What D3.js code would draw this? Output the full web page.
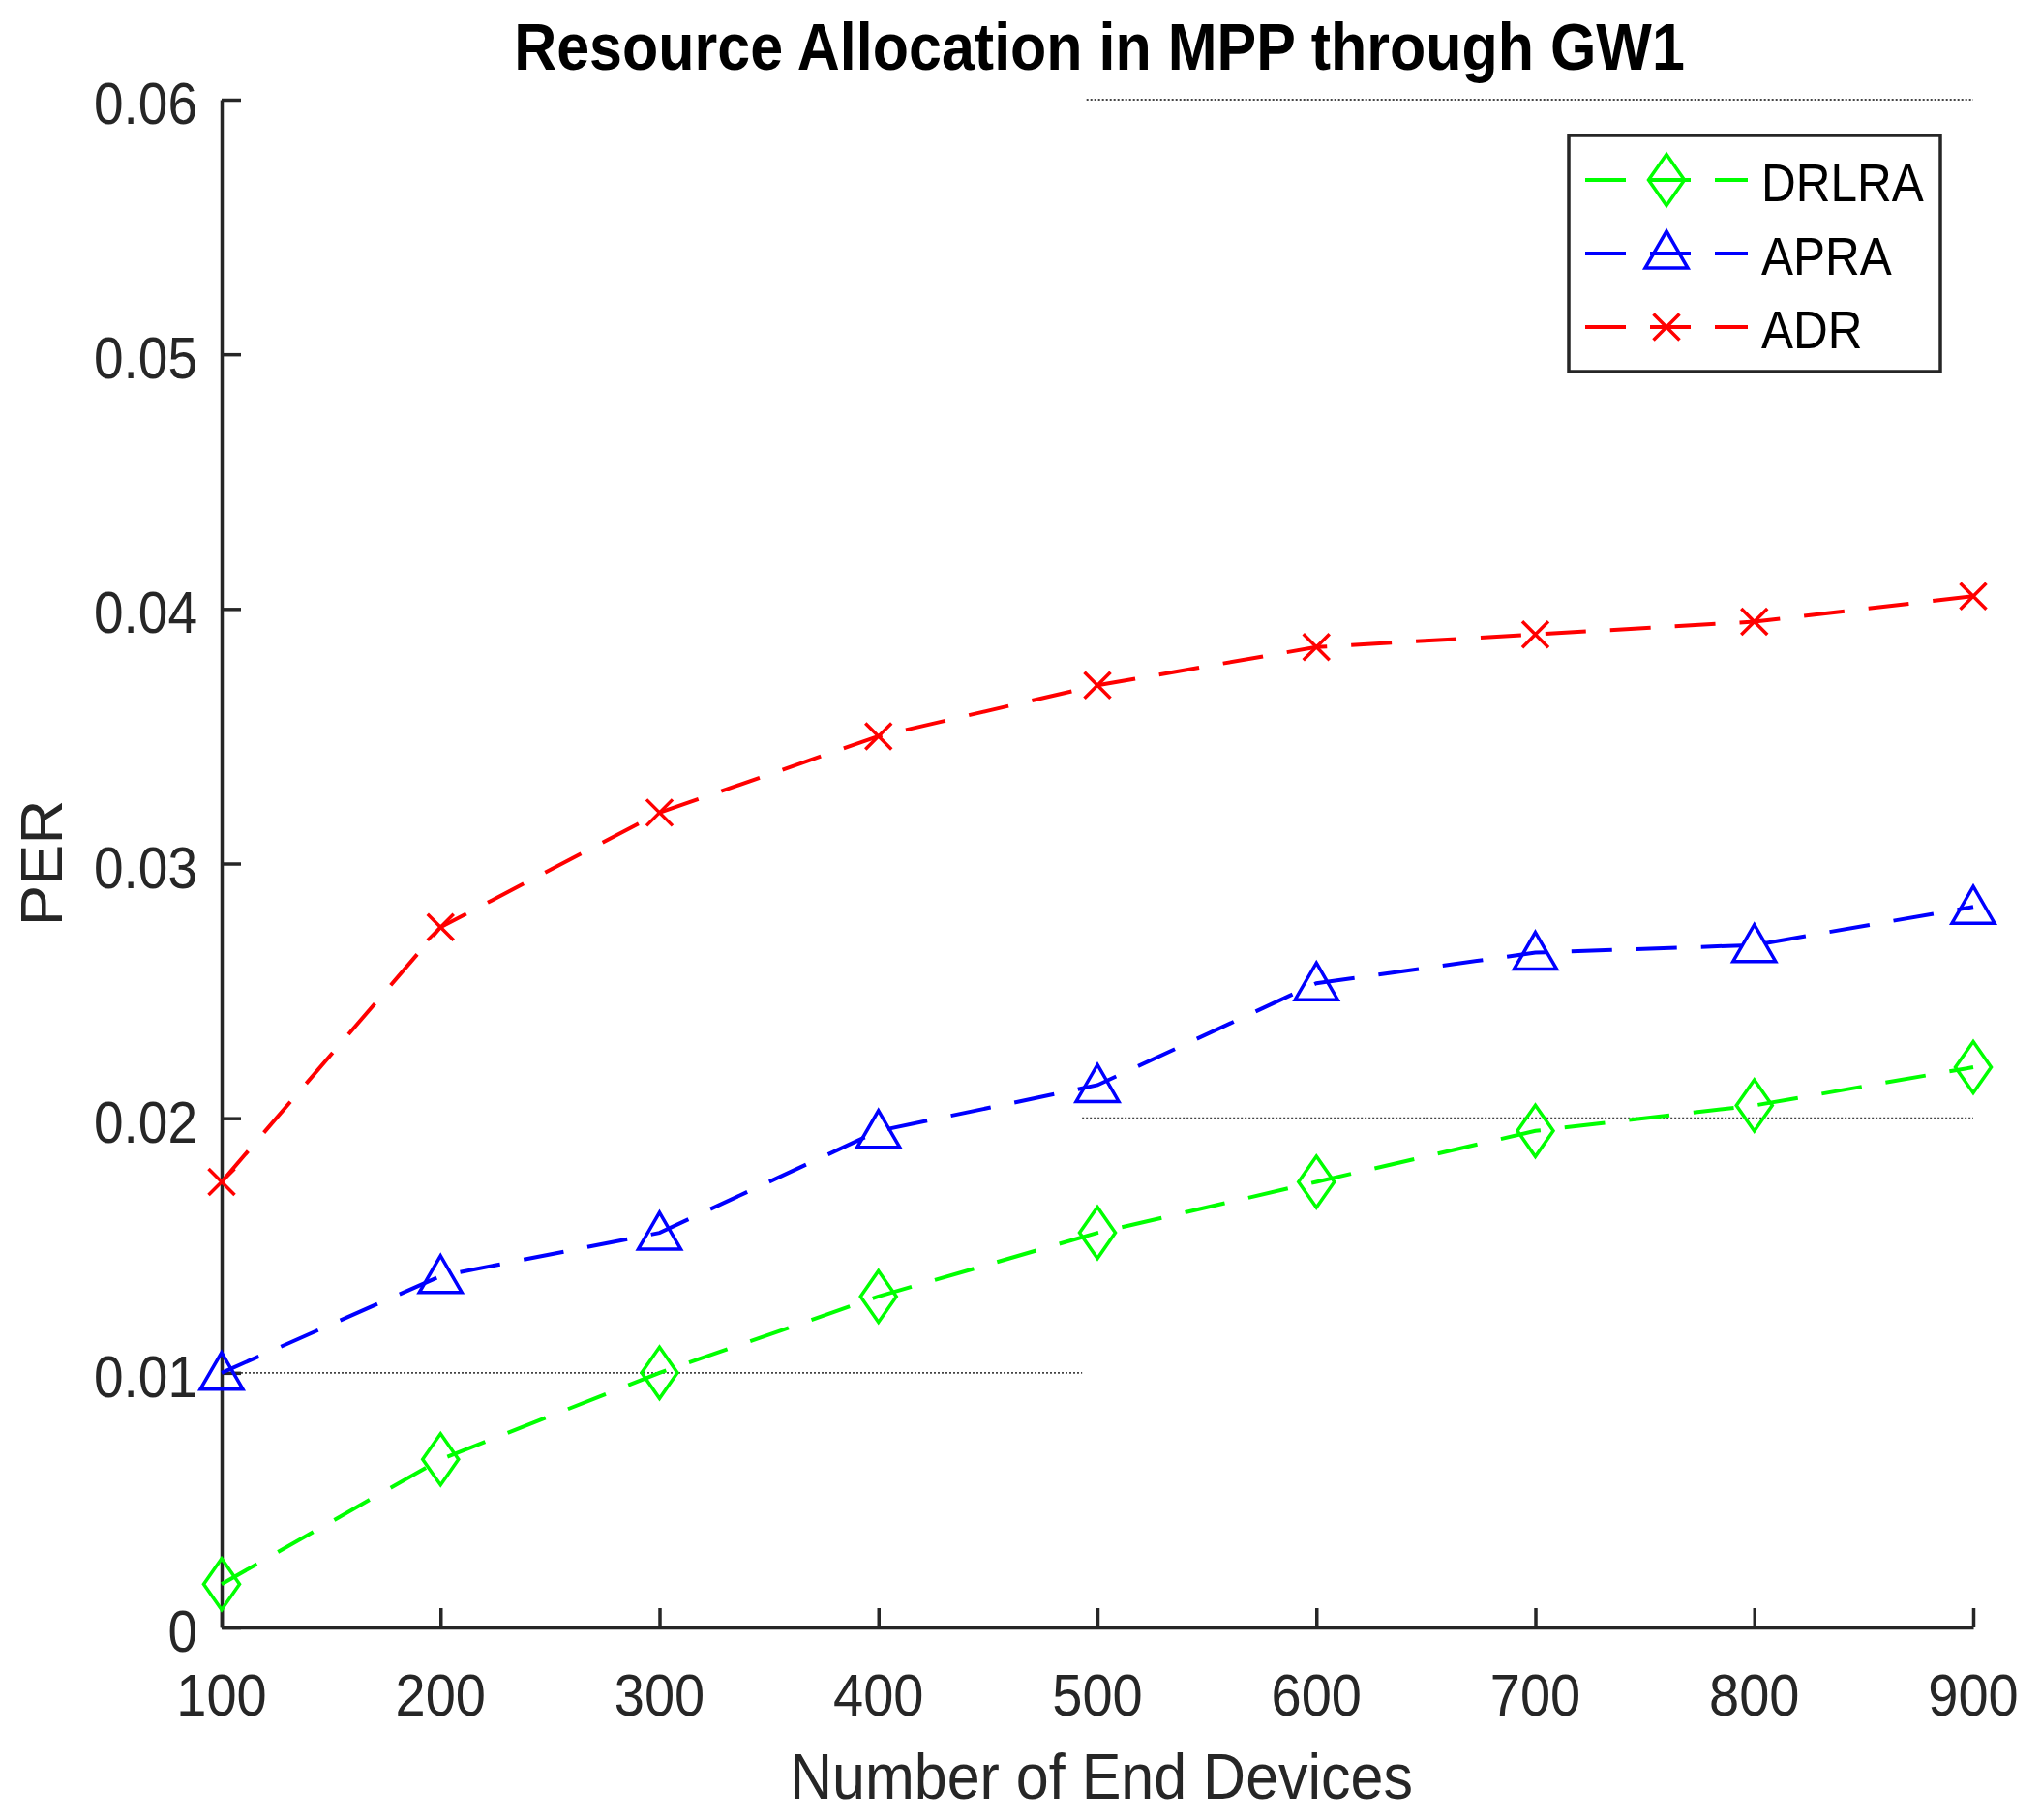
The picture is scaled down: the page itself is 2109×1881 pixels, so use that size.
<!DOCTYPE html>
<html>
<head>
<meta charset="utf-8">
<script src="https://cdn.jsdelivr.net/npm/d3@7"></script>
<style>
  html, body { margin: 0; padding: 0; background: #fff; }
  svg { display: block; }
  text { font-family: "Liberation Sans", Arial, Helvetica, sans-serif; }
</style>
</head>
<body>
<svg id="chart" width="2109" height="1881"></svg>
<script>
// ---------------- data ----------------
const devices = [100, 200, 300, 400, 500, 600, 700, 800, 900];
const drlra = [0.0017, 0.0066, 0.0100, 0.0130, 0.0155, 0.0175, 0.0195, 0.0205, 0.0220];
const apra  = [0.0100, 0.0138, 0.0155, 0.0195, 0.0213, 0.0253, 0.0265, 0.0268, 0.0283];
const adr   = [0.0175, 0.0275, 0.0320, 0.0350, 0.0370, 0.0385, 0.0390, 0.0395, 0.0405];
const seriesNames = ["DRLRA", "APRA", "ADR"];
const xTicks = [100, 200, 300, 400, 500, 600, 700, 800, 900];
const xTickLabels = ["100", "200", "300", "400", "500", "600", "700", "800", "900"];
const yTicks = [0, 0.01, 0.02, 0.03, 0.04, 0.05, 0.06];
const yTickLabels = ["0", "0.01", "0.02", "0.03", "0.04", "0.05", "0.06"];
// faint reference lines visible in the figure (value, from, to)
const refY  = [0.06, 0.02, 0.01];
const refX0 = [495, 493, 100];
const refX1 = [900, 900, 493];

const titleText = "Resource Allocation in MPP through GW1";
const xLabelText = "Number of End Devices";
const yLabelText = "PER";

// ---------------- layout ----------------
const svg = d3.select("#chart");
const x = d3.scaleLinear().domain([100, 900]).range([229, 2039]);
const y = d3.scaleLinear().domain([0, 0.06]).range([1682, 103]);
const axisColor = "#262626";

const series = [
  { name: seriesNames[0], values: drlra, color: "#00ff00", marker: "diamond" },
  { name: seriesNames[1], values: apra,  color: "#0000ff", marker: "triangle" },
  { name: seriesNames[2], values: adr,   color: "#ff0000", marker: "cross" }
];

function markerPath(type) {
  if (type === "diamond") return "M0,-26.5L18.5,0L0,26.5L-18.5,0Z";
  if (type === "triangle") return "M0,-21L22,17L-22,17Z";
  return "M-13.5,-13.5L13.5,13.5M-13.5,13.5L13.5,-13.5";
}

function stretchedText(g, txt, px, py, size, sy, anchor, opts = {}) {
  const t = g.append("text")
    .attr("transform", `translate(${px},${py}) ${opts.rotate ? "rotate(" + opts.rotate + ")" : ""} scale(${opts.sx || 1},${sy})`)
    .attr("text-anchor", anchor)
    .attr("font-size", size)
    .attr("fill", opts.fill || axisColor)
    .text(txt);
  if (opts.bold) t.attr("font-weight", "bold");
  return t;
}

// reference dotted lines
const refG = svg.append("g");
refY.forEach((v, i) => {
  refG.append("line")
    .attr("x1", x(refX0[i])).attr("x2", x(refX1[i]))
    .attr("y1", y(v)).attr("y2", y(v))
    .attr("stroke", "#444").attr("stroke-width", 1.8)
    .attr("stroke-dasharray", "2,2");
});

// axes
const yAxis = d3.axisLeft(y).tickValues(yTicks).tickSize(-20).tickSizeOuter(0).tickFormat("");
const xAxis = d3.axisBottom(x).tickValues(xTicks).tickSize(-20).tickSizeOuter(0).tickFormat("");
const gy = svg.append("g").attr("transform", `translate(${x(100)},0)`).call(yAxis);
const gx = svg.append("g").attr("transform", `translate(0,${y(0)})`).call(xAxis);
[gx, gy].forEach(g => {
  g.selectAll("path.domain").attr("stroke", axisColor).attr("stroke-width", 3.5);
  g.selectAll(".tick line").attr("stroke", axisColor).attr("stroke-width", 3.5);
});

// tick labels
const labG = svg.append("g");
yTicks.forEach((v, i) => {
  stretchedText(labG, yTickLabels[i], 204, y(v) + 25, 55, 1.1, "end");
});
xTicks.forEach((v, i) => {
  stretchedText(labG, xTickLabels[i], x(v), 1773, 56, 1.1, "middle");
});

// series lines
const line = d3.line().x((d, i) => x(devices[i])).y(d => y(d));
const plotG = svg.append("g");
series.forEach(s => {
  plotG.append("path")
    .attr("d", line(s.values))
    .attr("fill", "none")
    .attr("stroke", s.color)
    .attr("stroke-width", 4)
    .attr("stroke-dasharray", "42,25");
});
series.forEach(s => {
  plotG.selectAll(null).data(s.values).enter().append("path")
    .attr("transform", (d, i) => `translate(${x(devices[i])},${y(d)})`)
    .attr("d", markerPath(s.marker))
    .attr("fill", "none")
    .attr("stroke", s.color)
    .attr("stroke-width", 3.5);
});

// title and axis labels
stretchedText(svg, titleText, 1136, 72, 61, 1.12, "middle", { bold: true, fill: "#000" });
stretchedText(svg, xLabelText, 1138, 1859, 61, 1.08, "middle");
stretchedText(svg, yLabelText, 64, 892, 61, 1, "middle", { rotate: -90, sx: 1.04 });

// legend
const lg = svg.append("g");
lg.append("rect")
  .attr("x", 1621).attr("y", 140).attr("width", 384).attr("height", 244)
  .attr("fill", "#fff").attr("stroke", axisColor).attr("stroke-width", 3.5);
const rowY = [186, 262, 338];
series.forEach((s, i) => {
  lg.append("line")
    .attr("x1", 1638).attr("x2", 1806)
    .attr("y1", rowY[i]).attr("y2", rowY[i])
    .attr("stroke", s.color).attr("stroke-width", 4)
    .attr("stroke-dasharray", "42,25");
  lg.append("path")
    .attr("transform", `translate(1722,${rowY[i] + (s.marker === "triangle" ? -2 : 0)})`)
    .attr("d", markerPath(s.marker))
    .attr("fill", "none").attr("stroke", s.color).attr("stroke-width", 3.5);
  stretchedText(lg, s.name, 1820, rowY[i] + 22, 49.5, 1.13, "start", { fill: "#000" });
});
</script>
</body>
</html>
